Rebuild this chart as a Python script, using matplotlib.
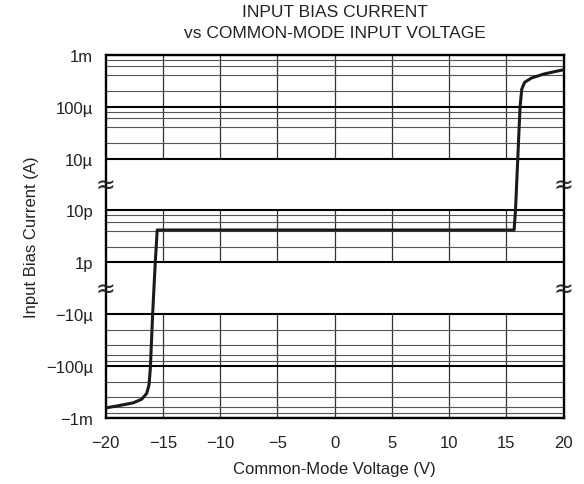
import numpy as np
import matplotlib
matplotlib.use("Agg")
import matplotlib.pyplot as plt
from matplotlib.ticker import FixedLocator

plt.rcParams['font.family'] = ['Liberation Sans', 'DejaVu Sans']

# common-mode voltage (V) and input bias current (A)
vcm = [-20.0, -18.75, -17.6, -16.86, -16.42, -16.22, -16.10, -15.90, -15.67, -15.50,
       15.68, 15.80, 16.00, 16.15, 16.20, 16.35, 16.60, 17.20, 18.30, 20.0]
ib = [-640e-6, -570e-6, -510e-6, -435e-6, -335e-6, -233e-6, -110e-6, -10e-6, 1e-12, 4.2e-12,
      4.2e-12, 10e-12, 10e-6, 57e-6, 100e-6, 219e-6, 295e-6, 357e-6, 427e-6, 515e-6]

x_ticks = [-20, -15, -10, -5, 0, 5, 10, 15, 20]
y_ticks = [-1e-3, -1e-4, -1e-5, 1e-12, 1e-11, 1e-5, 1e-4, 1e-3]
y_labels = ['\u22121m', '\u2212100\u00b5', '\u221210\u00b5', '1p', '10p', '10\u00b5', '100\u00b5', '1m']
minor_mult = [2, 4, 6, 8]

# the three visible bands of the broken axis
bands = [(-1e-3, -1e-5), (1e-12, 1e-11), (1e-5, 1e-3)]


def forward(v):
    v = np.asarray(v, dtype=float)
    with np.errstate(all='ignore'):
        lg = np.log10(np.abs(v).clip(1e-30))
        return np.select(
            [v <= -1e-5, v < 1e-12, v <= 1e-11, v < 1e-5],
            [-3 - lg,
             2 + (v + 1e-5) / (1e-12 + 1e-5),
             lg + 15,
             4 + (v - 1e-11) / (1e-5 - 1e-11)],
            default=lg + 10)


def inverse(u):
    u = np.asarray(u, dtype=float)
    with np.errstate(all='ignore'):
        return np.select(
            [u <= 2, u < 3, u <= 4, u < 5],
            [-10.0 ** (-3 - u),
             -1e-5 + (u - 2) * (1e-12 + 1e-5),
             10.0 ** (u - 15),
             1e-11 + (u - 4) * (1e-5 - 1e-11)],
            default=10.0 ** (u - 10))


fig = plt.figure(figsize=(5.84, 4.85), dpi=100)
ax = fig.add_axes([0.181, 0.136, 0.784, 0.749])

ax.set_yscale('function', functions=(forward, inverse))
ax.set_xlim(-20, 20)
ax.set_ylim(-1e-3, 1e-3)

ax.xaxis.set_major_locator(FixedLocator(x_ticks))
ax.set_xticklabels([f'{t}'.replace('-', '\u2212') for t in x_ticks])
ax.yaxis.set_major_locator(FixedLocator(y_ticks))
ax.set_yticklabels(y_labels)

minor_vals = []
for lo, hi in bands:
    base = min(abs(lo), abs(hi))
    top = max(abs(lo), abs(hi))
    sign = -1 if lo < 0 else 1
    d = base
    while d < top:
        minor_vals += [sign * m * d for m in minor_mult]
        d *= 10
ax.yaxis.set_minor_locator(FixedLocator(minor_vals))
ax.yaxis.set_minor_formatter(plt.NullFormatter())

ax.tick_params(axis='both', which='both', length=0, labelsize=12, labelcolor='#222222')
ax.tick_params(axis='x', pad=12)
ax.tick_params(axis='y', pad=9)

# horizontal grid
ax.grid(axis='y', which='major', color='black', lw=1.5)
ax.grid(axis='y', which='minor', color='#555555', lw=0.8)
# vertical grid only inside each band
for lo, hi in bands:
    ax.vlines(x_ticks[1:-1], lo, hi, colors='#333333', lw=0.9, zorder=1.5)

for s in ax.spines.values():
    s.set_linewidth(1.7)

ax.plot(vcm, ib, color='#1a1a1a', lw=2.2, zorder=3, solid_joinstyle='round')

# break marks on both sides
for xb in (-20, 20):
    for yb in (2.5 / 7, 4.5 / 7):
        ax.text(xb, yb, '\u2248', transform=ax.get_xaxis_transform(),
                ha='center', va='center', fontsize=17, color='#222222',
                family=['DejaVu Sans'], zorder=4, clip_on=False)

ax.set_title('INPUT BIAS CURRENT\nvs COMMON-MODE INPUT VOLTAGE', fontsize=12.5,
             pad=13, linespacing=1.45, color='#222222')
ax.set_xlabel('Common-Mode Voltage (V)', fontsize=12, labelpad=8, color='#222222')
ax.set_ylabel('Input Bias Current (A)', fontsize=12, labelpad=5, color='#222222')

fig.savefig('out.png', dpi=100)
